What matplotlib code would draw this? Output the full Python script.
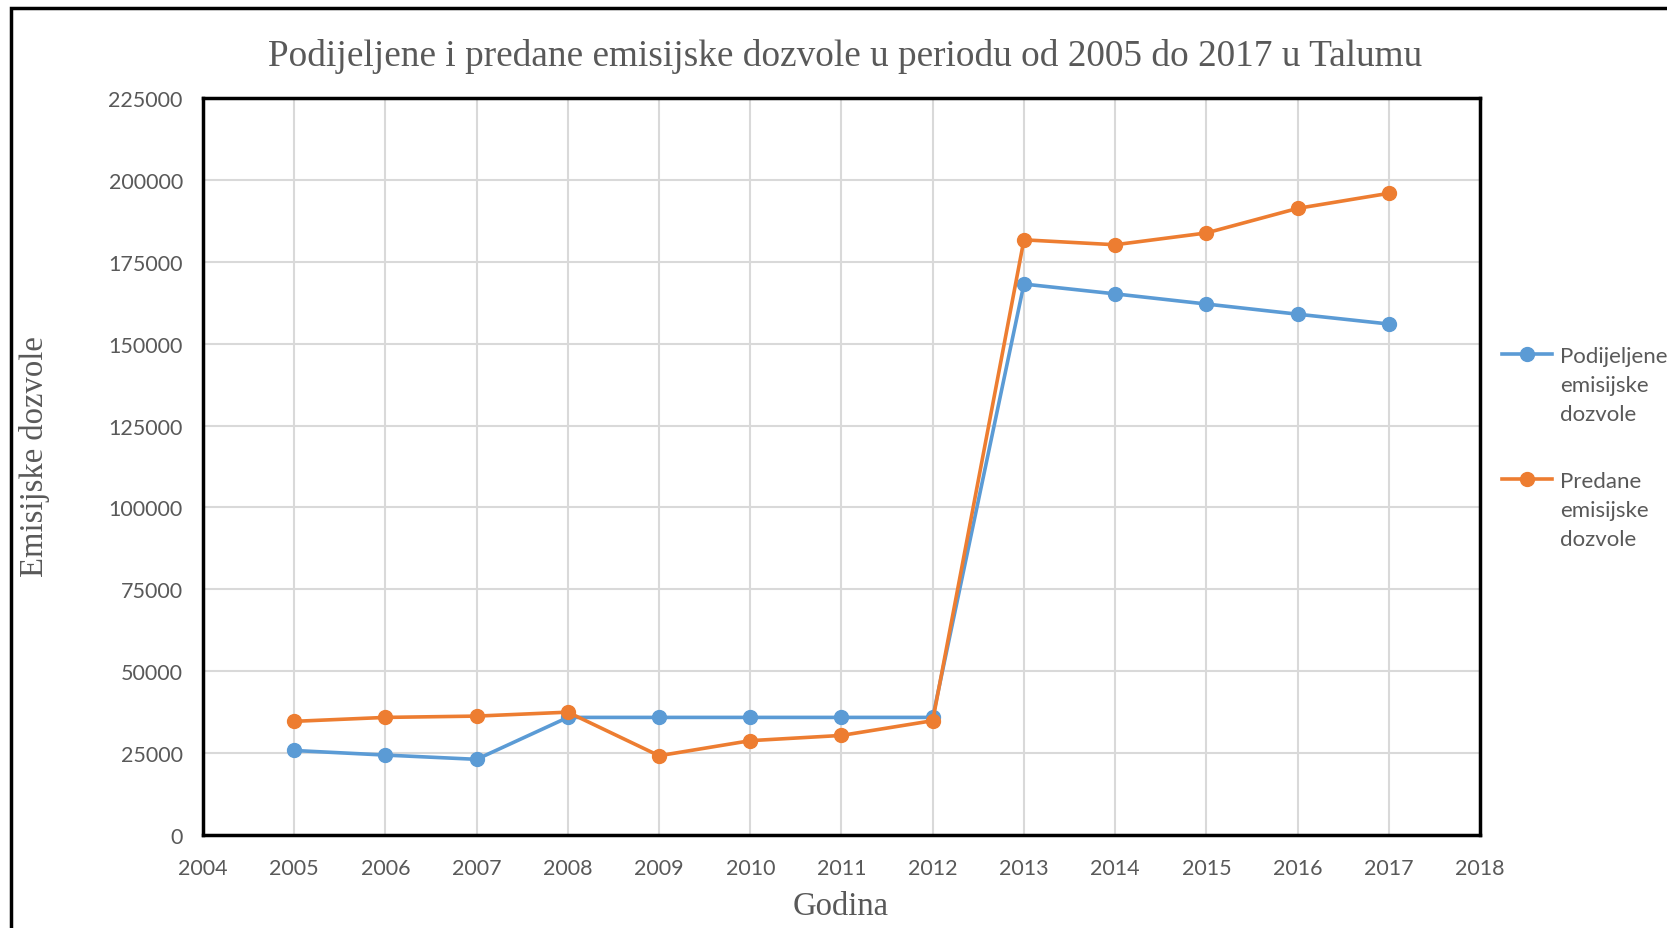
import matplotlib
matplotlib.use("Agg")
import matplotlib.pyplot as plt
from matplotlib.patches import Rectangle
from matplotlib.lines import Line2D

years = [2005, 2006, 2007, 2008, 2009, 2010, 2011, 2012, 2013, 2014, 2015, 2016, 2017]
podijeljene = [25800, 24400, 23100, 35900, 35900, 35900, 35900, 35900, 168200, 165200, 162100, 159000, 156000]
predane = [34700, 35900, 36300, 37500, 24200, 28800, 30400, 34900, 181700, 180200, 183800, 191300, 195900]
series_labels = ["Podijeljene\nemisijske\ndozvole", "Predane\nemisijske\ndozvole"]
title = "Podijeljene i predane emisijske dozvole u periodu od 2005 do 2017 u Talumu"
xlabel = "Godina"
ylabel = "Emisijske dozvole"
yticks = [0, 25000, 50000, 75000, 100000, 125000, 150000, 175000, 200000, 225000]
xticks = list(range(2004, 2019))

W, H = 1667, 929
fig = plt.figure(figsize=(W / 100, H / 100), dpi=100)
ax = fig.add_axes([203 / W, 1 - 836 / H, (1480 - 203) / W, (836 - 99) / H])

grey = "#595959"
tickfont = "Lato"
serif = "Liberation Serif"

l1, = ax.plot(years, podijeljene, color="#5B9BD5", lw=2.6, marker="o", ms=10, zorder=3)
l2, = ax.plot(years, predane, color="#ED7D31", lw=2.6, marker="o", ms=10, zorder=4)

ax.set_xlim(2004, 2018)
ax.set_ylim(0, 225000)
ax.set_xticks(xticks)
ax.set_yticks(yticks)
ax.set_xticklabels([str(x) for x in xticks], fontfamily=tickfont, fontsize=15.5, color=grey)
ax.set_yticklabels([str(y) for y in yticks], fontfamily=tickfont, fontsize=15.5, color=grey)
ax.tick_params(axis="y", length=0, pad=14.5)
ax.tick_params(axis="x", length=0, pad=16.5)
ax.grid(True, color="#D9D9D9", lw=1.5)
ax.set_axisbelow(True)
for s in ax.spines.values():
    s.set_color("black")
    s.set_linewidth(2.5)

fig.text(0.507, 1 - 56 / H, title, ha="center", va="center", fontfamily=serif, fontsize=26.8, color=grey)
fig.text(0.504, 1 - 907 / H, xlabel, ha="center", va="center", fontfamily=serif, fontsize=23.5, color=grey)
fig.text(34 / W, 1 - 457 / H, ylabel, ha="center", va="center", rotation=90, fontfamily=serif, fontsize=23.5, color=grey)

# legend (manual)
for line, lab, ytop in [(l1, series_labels[0], 355), (l2, series_labels[1], 480)]:
    yf = 1 - ytop / H
    fig.add_artist(Line2D([1502 / W, 1552 / W], [yf, yf], transform=fig.transFigure,
                          color=line.get_color(), lw=line.get_linewidth()))
    fig.add_artist(Line2D([1527 / W], [yf], transform=fig.transFigure, color=line.get_color(),
                          marker="o", ms=10, lw=0))
    fig.text(1560 / W, yf + 8 / H, lab, ha="left", va="top", fontfamily=tickfont, fontsize=16,
             color=grey, linespacing=1.55)

# outer frame
fig.add_artist(Rectangle((11 / W, -0.1), 1.2, 1 - 9 / H + 0.1, transform=fig.transFigure,
                         fill=False, edgecolor="black", lw=2.5))

fig.savefig("out.png", dpi=100)
